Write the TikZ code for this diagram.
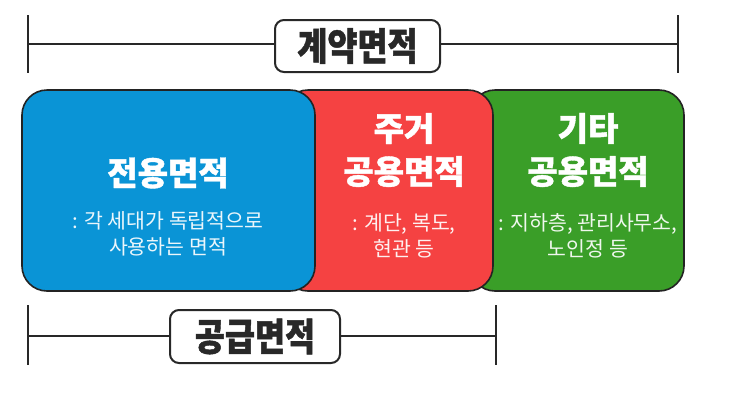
\documentclass[tikz,border=0pt]{standalone}
\usepackage{fontspec}
\newfontfamily\kr[BoldFeatures={FakeBold=1.2}]{Noto Sans CJK KR}
\newfontfamily\krs{Noto Sans CJK KR}
\newfontfamily\krc[FakeStretch=0.86,BoldFeatures={FakeBold=1.2}]{Noto Sans CJK KR}
\definecolor{cblue}{RGB}{10,148,214}
\definecolor{cred}{RGB}{245,66,66}
\definecolor{cgreen}{RGB}{58,158,40}
\definecolor{edge}{RGB}{35,35,35}
\definecolor{ink}{RGB}{40,40,40}
\tikzset{
  area/.style={draw=edge, line width=1.6pt, rounded corners=25pt, inner sep=0pt},
  bigtxt/.style={text=white, font=\kr\bfseries\fontsize{33}{43}\selectfont, align=center, inner sep=0pt},
  subtxt/.style={text=white, text opacity=0.92, font=\krs\fontsize{20.5}{26}\selectfont, align=center, inner sep=0pt},
  bar/.style={draw=ink, line width=1.8pt},
  tagbox/.style={draw=ink, line width=2pt, fill=white, rounded corners=9pt, inner sep=0pt,
    font=\krc\bfseries\fontsize{38}{40}\selectfont, text=ink}
}
\begin{document}
\begin{tikzpicture}[x=1pt,y=-1pt]
\useasboundingbox[fill=white] (0,0) rectangle (743,413);
% colored areas
\node[area, fill=cgreen, minimum width=214pt, minimum height=201pt] (green) at (577,190.5) {};
\node[area, fill=cred, minimum width=210pt, minimum height=201pt] (red) at (388,190.5) {};
\node[area, fill=cblue, minimum width=293pt, minimum height=201pt] (blue) at (168.5,190.5) {};
% texts
\node[bigtxt] (bt) at (168,173) {전용면적};
\node[subtxt] (bs) at (168,234) {: 각 세대가 독립적으로\\사용하는 면적};
\node[bigtxt, align=center] (rt) at (404,150) {주거\\공용면적};
\node[subtxt] (rs) at (404,236) {: 계단, 복도,\\현관 등};
\node[bigtxt] (gt) at (588,150) {기타\\공용면적};
\node[subtxt] (gs) at (588,236) {: 지하층, 관리사무소,\\노인정 등};
% top bracket
\coordinate (tl) at (28,44); \coordinate (tr) at (678,44);
\coordinate (tla) at (28,15); \coordinate (tlb) at (28,73);
\coordinate (tra) at (678,15); \coordinate (trb) at (678,73);
\draw[bar] (tl) -- (tr);
\draw[bar] (tla) -- (tlb);
\draw[bar] (tra) -- (trb);
\node[tagbox, minimum width=165pt, minimum height=52pt] (contract) at (357.5,46) {계약면적};
% bottom bracket
\coordinate (bl) at (28,336); \coordinate (br) at (496,336);
\coordinate (bla) at (28,305); \coordinate (blb) at (28,365);
\coordinate (bra) at (496,305); \coordinate (brb) at (496,365);
\draw[bar] (bl) -- (br);
\draw[bar] (bla) -- (blb);
\draw[bar] (bra) -- (brb);
\node[tagbox, minimum width=170pt, minimum height=53pt] (supply) at (255,336.5) {공급면적};
\end{tikzpicture}
\end{document}
